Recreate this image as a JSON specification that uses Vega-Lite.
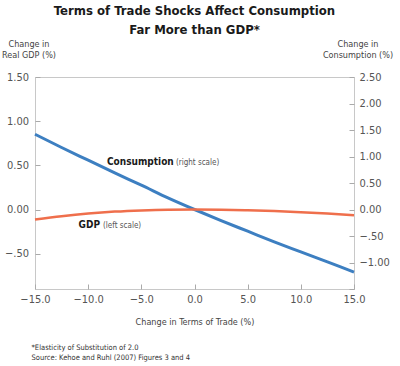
{
  "$schema": "https://vega.github.io/schema/vega-lite/v6.json",
  "width": 319,
  "height": 212,
  "autosize": "none",
  "padding": {"left": 35, "top": 77, "right": 46, "bottom": 77},
  "background": "white",
  "title": {
    "text": ["Terms of Trade Shocks Affect Consumption", "Far More than GDP*"],
    "font": "DejaVu Sans Condensed",
    "fontSize": 13,
    "fontWeight": "bold",
    "color": "#1a1a1a",
    "lineHeight": 19,
    "anchor": "middle",
    "frame": "group",
    "offset": 2
  },
  "config": {
    "view": {"stroke": "#c8c8c8", "strokeWidth": 1},
    "axis": {
      "labelFont": "DejaVu Sans Condensed",
      "labelFontSize": 11,
      "labelColor": "#555555",
      "labelOverlap": false,
      "tickColor": "#aaaaaa",
      "titleFont": "DejaVu Sans Condensed",
      "titleFontSize": 9,
      "titleFontWeight": "normal",
      "titleColor": "#444444",
      "grid": false,
      "domain": false
    }
  },
  "datasets": {
    "cons": [
      {"x": -15, "y": 1.42}, {"x": -12.5, "y": 1.17}, {"x": -10, "y": 0.93},
      {"x": -7.5, "y": 0.69}, {"x": -5, "y": 0.46}, {"x": -2.5, "y": 0.22},
      {"x": 0, "y": 0}, {"x": 2.5, "y": -0.21}, {"x": 5, "y": -0.41},
      {"x": 7.5, "y": -0.61}, {"x": 10, "y": -0.8}, {"x": 12.5, "y": -0.99},
      {"x": 15, "y": -1.18}
    ],
    "gdp": [
      {"x": -15, "y": -0.113}, {"x": -12.5, "y": -0.076}, {"x": -10, "y": -0.046},
      {"x": -7.5, "y": -0.024}, {"x": -5, "y": -0.01}, {"x": -2.5, "y": -0.002},
      {"x": 0, "y": 0}, {"x": 2.5, "y": -0.002}, {"x": 5, "y": -0.008},
      {"x": 7.5, "y": -0.017}, {"x": 10, "y": -0.03}, {"x": 12.5, "y": -0.046},
      {"x": 15, "y": -0.065}
    ],
    "consText": [
      {"x": -8.23, "y": 0.836, "label": "Consumption", "part": "name"},
      {"x": -1.75, "y": 0.836, "label": "(right scale)", "part": "note"}
    ],
    "gdpText": [
      {"x": -10.9, "y": -0.215, "label": "GDP", "part": "name"},
      {"x": -8.6, "y": -0.215, "label": "(left scale)", "part": "note"}
    ]
  },
  "layer": [
    {
      "layer": [
        {
          "mark": {"type": "rule", "color": "#bdbdbd", "strokeWidth": 2},
          "encoding": {
            "y": {
              "datum": 0, "type": "quantitative",
              "scale": {"domain": [-1.5, 2.5], "nice": false, "zero": false}
            }
          }
        },
        {
          "data": {"name": "cons"},
          "mark": {"type": "line", "color": "#3d7fc1", "strokeWidth": 3, "interpolate": "monotone"},
          "encoding": {
            "x": {
              "field": "x", "type": "quantitative",
              "scale": {"domain": [-15, 15], "nice": false, "zero": false},
              "axis": {
                "orient": "top",
                "labels": false,
                "ticks": false,
                "domain": false,
                "grid": false,
                "title": ["*Elasticity of Substitution of 2.0", "\u00a0\u00a0Source: Kehoe and Ruhl (2007) Figures 3 and 4"],
                "titleX": -4,
                "titleY": 272,
                "titleAlign": "left",
                "titleAngle": 0,
                "titleBaseline": "alphabetic",
                "titleFontSize": 7.5,
                "titleLineHeight": 10,
                "titleColor": "#333333"
              }
            },
            "y": {
              "field": "y", "type": "quantitative",
              "scale": {"domain": [-1.5, 2.5], "nice": false, "zero": false},
              "axis": {
                "orient": "right",
                "tickCount": 8,
                "labelExpr": "datum.value < -1.2 ? '' : abs(datum.value + 0.5) < 0.001 ? '\u2212.50' : format(datum.value, '.2f')",
                "labelOverlap": false,
                "tickSize": -5,
                "labelPadding": 10,
                "title": ["Change in", "Consumption (%)"],
                "titleAngle": 0,
                "titleAlign": "center",
                "titleBaseline": "alphabetic",
                "titleX": 3.5,
                "titleY": -31,
                "titleLineHeight": 11.5
              }
            }
          }
        },
        {
          "data": {"name": "consText"},
          "transform": [{"filter": "datum.part == 'name'"}],
          "mark": {"type": "text", "align": "left", "baseline": "alphabetic", "font": "DejaVu Sans Condensed", "fontSize": 10, "fontWeight": "bold", "color": "#1a1a1a"},
          "encoding": {
            "x": {"field": "x", "type": "quantitative"},
            "y": {"field": "y", "type": "quantitative"},
            "text": {"field": "label"}
          }
        },
        {
          "data": {"name": "consText"},
          "transform": [{"filter": "datum.part == 'note'"}],
          "mark": {"type": "text", "align": "left", "baseline": "alphabetic", "font": "DejaVu Sans Condensed", "fontSize": 8, "color": "#555555"},
          "encoding": {
            "x": {"field": "x", "type": "quantitative"},
            "y": {"field": "y", "type": "quantitative"},
            "text": {"field": "label"}
          }
        }
      ]
    },
    {
      "layer": [
        {
          "data": {"name": "gdp"},
          "mark": {"type": "line", "color": "#ef6f4c", "strokeWidth": 2.5, "interpolate": "monotone"},
          "encoding": {
            "x": {
              "field": "x", "type": "quantitative",
              "scale": {"domain": [-15, 15], "nice": false, "zero": false},
              "axis": {
                "orient": "bottom",
                "values": [-15, -10, -5, 0, 5, 10, 15],
                "format": ".1f",
                "labelFlush": false,
                "tickSize": -5,
                "labelPadding": 9,
                "title": "Change in Terms of Trade (%)",
                "titleBaseline": "alphabetic",
                "titleY": 35
              }
            },
            "y": {
              "field": "y", "type": "quantitative",
              "scale": {"domain": [-0.9, 1.5], "nice": false, "zero": false},
              "axis": {
                "orient": "left",
                "values": [-0.5, 0, 0.5, 1, 1.5],
                "labelExpr": "abs(datum.value + 0.5) < 0.001 ? '\u2212.50' : format(datum.value, '.2f')",
                "tickSize": -5,
                "labelPadding": 11.5,
                "title": ["Change in", "Real GDP (%)"],
                "titleAngle": 0,
                "titleAlign": "center",
                "titleBaseline": "alphabetic",
                "titleX": -6.5,
                "titleY": -31,
                "titleLineHeight": 11.5
              }
            }
          }
        },
        {
          "data": {"name": "gdpText"},
          "transform": [{"filter": "datum.part == 'name'"}],
          "mark": {"type": "text", "align": "left", "baseline": "alphabetic", "font": "DejaVu Sans Condensed", "fontSize": 10, "fontWeight": "bold", "color": "#1a1a1a"},
          "encoding": {
            "x": {"field": "x", "type": "quantitative"},
            "y": {"field": "y", "type": "quantitative"},
            "text": {"field": "label"}
          }
        },
        {
          "data": {"name": "gdpText"},
          "transform": [{"filter": "datum.part == 'note'"}],
          "mark": {"type": "text", "align": "left", "baseline": "alphabetic", "font": "DejaVu Sans Condensed", "fontSize": 8, "color": "#555555"},
          "encoding": {
            "x": {"field": "x", "type": "quantitative"},
            "y": {"field": "y", "type": "quantitative"},
            "text": {"field": "label"}
          }
        }
      ]
    }
  ],
  "resolve": {"scale": {"y": "independent"}, "axis": {"x": "independent", "y": "independent"}}
}
